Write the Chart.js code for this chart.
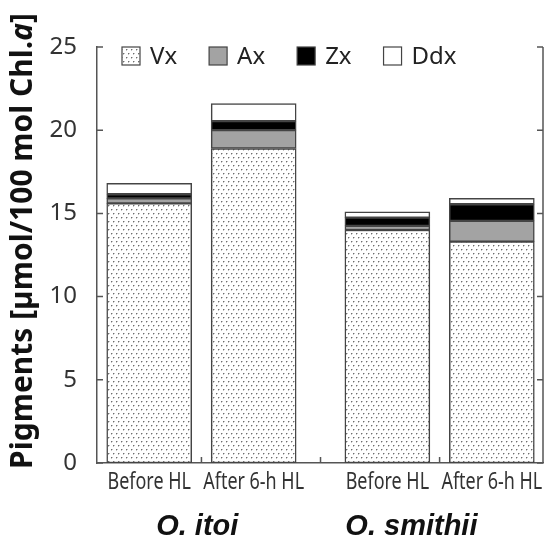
<!DOCTYPE html>
<html><head><meta charset="utf-8">
<script src="https://cdn.jsdelivr.net/npm/chart.js@4.4.0/dist/chart.umd.min.js"></script>
<style>html,body{margin:0;padding:0;background:#fff}#wrap{width:545px;height:542px}</style>
</head><body><div id="wrap"><canvas id="c" width="545" height="542"></canvas></div>
<script>
// ---- data ----
const categories = ['Before HL', 'After 6-h HL', 'Before HL', 'After 6-h HL'];
const groups = ['O. itoi', 'O. smithii'];
const seriesNames = ['Vx', 'Ax', 'Zx', 'Ddx'];
const vx  = [15.6, 18.9, 14.0, 13.3];
const ax  = [0.3, 1.1, 0.25, 1.25];
const zx  = [0.25, 0.55, 0.5, 1.0];
const ddx = [0.65, 1.05, 0.35, 0.35];
const yTicks = [0, 5, 10, 15, 20, 25];
const yTitleParts = [['Pigments [µmol/100 mol Chl.', false], ['a', true], [']', false]];

// ---- layout (positions on the x scale) ----
const barPos = [0, 1, 2.28, 3.28];
const tickPos = [0.5, 1.64, 2.78];
const groupLabelPos = [0.46, 2.51];

function dotPattern() {
  const c = document.createElement('canvas');
  c.width = 10; c.height = 8;
  const g = c.getContext('2d');
  g.fillStyle = '#fff'; g.fillRect(0, 0, 10, 8);
  [[1, 1], [6, 1], [3, 5], [8, 5]].forEach(([x, y]) => {
    g.fillStyle = '#6e6e6e'; g.fillRect(x, y, 1, 1);
    g.fillStyle = '#c4c4c4'; g.fillRect(x + 1, y, 1, 1); g.fillRect(x, y + 1, 1, 1);
  });
  return document.getElementById('c').getContext('2d').createPattern(c, 'repeat');
}
const fills = [dotPattern(), '#a3a3a3', '#000000', '#ffffff'];
const edge = '#444';

const framePlugin = {
  id: 'frame',
  afterDraw(chart) {
    const { ctx, chartArea: a, scales } = chart;
    ctx.save();
    ctx.strokeStyle = '#555';
    ctx.lineWidth = 1.5;
    ctx.beginPath();
    ctx.moveTo(a.right, a.top); ctx.lineTo(a.right, a.bottom);
    yTicks.forEach(v => {
      const p = scales.y.getPixelForValue(v);
      ctx.moveTo(a.left, p); ctx.lineTo(a.left + 6, p);
      ctx.moveTo(a.right, p); ctx.lineTo(a.right - 6, p);
    });
    tickPos.forEach(v => {
      const p = scales.x.getPixelForValue(v);
      ctx.moveTo(p, a.bottom); ctx.lineTo(p, a.bottom - 6);
    });
    ctx.stroke();

    // category labels (condensed)
    ctx.font = "23px 'Noto Sans', sans-serif";
    ctx.textBaseline = 'middle';
    ctx.textAlign = 'center';
    ctx.fillStyle = '#333';
    categories.forEach((c, i) => {
      ctx.save();
      ctx.translate(scales.x.getPixelForValue(barPos[i]), 482);
      ctx.scale(0.78, 1);
      ctx.fillText(c, 0, 0);
      ctx.restore();
    });

    // legend
    ctx.font = "24px 'Noto Sans', sans-serif";
    ctx.textAlign = 'left';
    let x = 122;
    const top = 47, size = 18;
    chart.data.datasets.forEach(ds => {
      ctx.fillStyle = ds.backgroundColor;
      ctx.fillRect(x, top, size, size);
      ctx.strokeStyle = edge; ctx.lineWidth = 1.2;
      ctx.strokeRect(x, top, size, size);
      ctx.fillStyle = '#222';
      ctx.fillText(ds.label, x + size + 10, top + size / 2 + 1);
      x += size + 10 + ctx.measureText(ds.label).width + 32;
    });

    // group labels
    ctx.font = "italic bold 29px 'Liberation Sans', Arial, sans-serif";
    ctx.textAlign = 'center';
    ctx.fillStyle = '#111';
    groups.forEach((g, i) => {
      ctx.fillText(g, scales.x.getPixelForValue(groupLabelPos[i]), 527);
    });

    // y title
    ctx.translate(23, 241);
    ctx.rotate(-Math.PI / 2);
    ctx.textAlign = 'left';
    const fonts = it => (it ? 'italic ' : '') + "bold 30px 'Noto Sans', sans-serif";
    let total = 0;
    yTitleParts.forEach(([t, it]) => { ctx.font = fonts(it); total += ctx.measureText(t).width; });
    let tx = -total / 2;
    yTitleParts.forEach(([t, it]) => {
      ctx.font = fonts(it);
      ctx.fillText(t, tx, 0);
      tx += ctx.measureText(t).width;
    });
    ctx.restore();
  }
};

new Chart(document.getElementById('c'), {
  type: 'bar',
  data: {
    datasets: [vx, ax, zx, ddx].map((arr, i) => ({
      label: seriesNames[i],
      data: arr.map((v, j) => ({ x: barPos[j], y: v })),
      backgroundColor: fills[i],
      borderColor: edge,
      borderWidth: 1.5,
      borderSkipped: false,
      barThickness: 85
    }))
  },
  options: {
    responsive: false,
    animation: false,
    devicePixelRatio: 1,
    layout: { padding: { top: 47, right: 2, left: 0, bottom: 0 } },
    plugins: { legend: { display: false }, tooltip: { enabled: false } },
    scales: {
      x: {
        type: 'linear', stacked: true, min: -0.5, max: 3.77, offset: false,
        afterBuildTicks: s => { s.ticks = barPos.map(v => ({ value: v })); },
        afterFit: s => { s.height = 79; },
        grid: { display: false },
        border: { display: true, color: '#555', width: 1.5 },
        ticks: { display: false }
      },
      y: {
        stacked: true, min: 0, max: 25,
        afterBuildTicks: s => { s.ticks = yTicks.map(v => ({ value: v })); },
        afterFit: s => { s.width = 97; },
        grid: { display: false },
        border: { display: true, color: '#555', width: 1.5 },
        ticks: { font: { family: "'Noto Sans', sans-serif", size: 24 }, color: '#333', padding: 12 }
      }
    }
  },
  plugins: [framePlugin]
});
</script></body></html>
